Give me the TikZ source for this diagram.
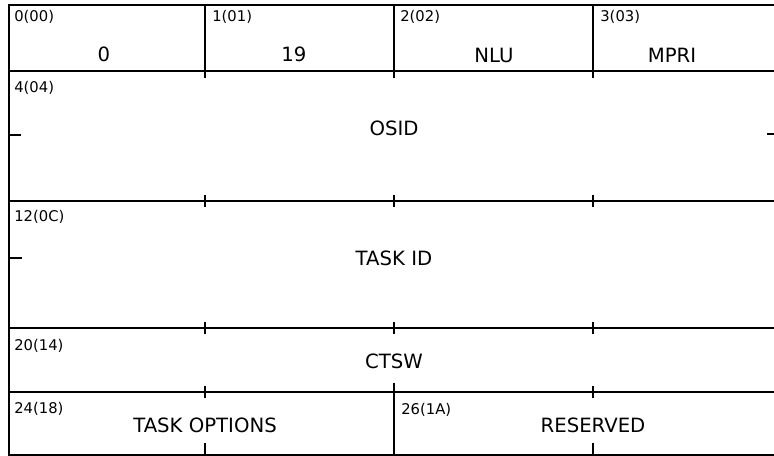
\documentclass[tikz,border=0pt]{standalone}
\usepackage{fontspec}
\newfontfamily\recfont{DejaVu Sans}
\usepackage{tikz}
\usetikzlibrary{positioning}

\begin{document}
\begin{tikzpicture}[
    x=0.02cm, y=-0.02cm, % one unit per pixel, y running down
    field/.style={
        font=\recfont\fontsize{11.2}{13}\selectfont,
        inner sep=0pt
    },
    offset/.style={
        font=\recfont\fontsize{8.4}{10}\selectfont,
        inner sep=0pt,
        anchor=north west
    },
    border/.style={
        line width=1.7pt
    },
    rule/.style={
        line width=0.95pt
    },
    tick/.style={
        line width=0.95pt
    }
]
    \useasboundingbox (0,0) rectangle (774,456);

    % --- Outer frame (open at the right, as in the printed page) ---
    \draw[border] (774,5) -- (9,5) -- (9,456);
    \draw[line width=0.6pt] (9,455) -- (774,455);

    % --- Horizontal rules between the entries ---
    \foreach \y in {71,201,328,392}
        \draw[rule] (9,\y) -- (774,\y);

    % --- Byte dividers of the first and last rows ---
    \foreach \x in {205,394,593}
        \draw[rule] (\x,5) -- (\x,78);
    \draw[rule] (394,383) -- (394,455);

    % --- Halfword ticks ---
    \foreach \y in {201,328}
        \foreach \x in {205,394,593}
            \draw[tick] (\x,\y-6) -- (\x,\y+6);
    \foreach \x in {205,593} {
        \draw[tick] (\x,386) -- (\x,398);
        \draw[tick] (\x,443) -- (\x,455);
    }
    \draw[tick] (9,135) -- (21,135);
    \draw[tick] (9,258) -- (22,258);
    \draw[tick] (767,134) -- (774,134);

    % --- Byte offsets ---
    \node[offset] (o00) at (14,10)  {0(00)};
    \node[offset] (o01) at (212,10) {1(01)};
    \node[offset] (o02) at (400,10) {2(02)};
    \node[offset] (o03) at (600,10) {3(03)};
    \node[offset] (o04) at (14,81)  {4(04)};
    \node[offset] (o0C) at (14,210) {12(0C)};
    \node[offset] (o14) at (14,339) {20(14)};
    \node[offset] (o18) at (14,402) {24(18)};
    \node[offset] (o1A) at (401,403) {26(1A)};

    % --- Field names ---
    \node[field] (zero) at (104,54)  {0};
    \node[field] (nineteen) at (294,54) {19};
    \node[field] (nlu)  at (494,55)  {NLU};
    \node[field] (mpri) at (672,55)  {MPRI};
    \node[field] (osid) at (394,128) {OSID};
    \node[field] (taskid) at (394,258) {TASK ID};
    \node[field] (ctsw) at (394,361) {CTSW};
    \node[field] (topt) at (205,425) {TASK OPTIONS};
    \node[field] (resv) at (593,425) {RESERVED};
\end{tikzpicture}
\end{document}
